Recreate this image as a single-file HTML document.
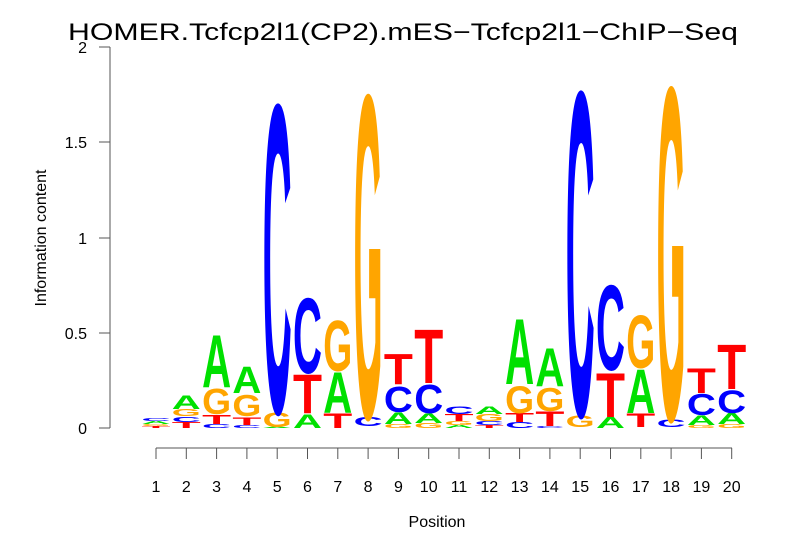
<!DOCTYPE html>
<html><head><meta charset="utf-8"><style>
html,body{margin:0;padding:0;background:#fff;}
svg{display:block;}
.l{font-family:"Liberation Sans",sans-serif;font-weight:bold;}
.A{fill:#00e000}.C{fill:#0000ff}.G{fill:#ffa500}.T{fill:#ff0000}
.t{font-family:"Liberation Sans",sans-serif;fill:#000;}
</style></head><body>
<svg width="806" height="559" viewBox="0 0 806 559" xmlns="http://www.w3.org/2000/svg">
<text class="t" x="403" y="40" font-size="24" text-anchor="middle" textLength="670" lengthAdjust="spacingAndGlyphs">HOMER.Tcfcp2l1(CP2).mES−Tcfcp2l1−ChIP−Seq</text>
<g stroke="#555" stroke-width="1" fill="none">
<line x1="110" y1="47" x2="110" y2="428"/>
<line x1="99" y1="428" x2="110" y2="428"/>
<line x1="99" y1="333" x2="110" y2="333"/>
<line x1="99" y1="238" x2="110" y2="238"/>
<line x1="99" y1="142" x2="110" y2="142"/>
<line x1="99" y1="47" x2="110" y2="47"/>
<line x1="156" y1="448" x2="732" y2="448"/>
</g>
<g class="t" font-size="16" text-anchor="end">
<text x="87" y="434">0</text><text x="87" y="339">0.5</text><text x="87" y="244">1</text><text x="87" y="148">1.5</text><text x="87" y="53">2</text>
</g>
<text class="t" font-size="16" text-anchor="middle" transform="translate(46,238) rotate(-90)">Information content</text>
<text class="t" font-size="16" text-anchor="middle" x="437" y="527">Position</text>
<g stroke="#555" stroke-width="1">
<line x1="156" y1="448" x2="156" y2="459"/><line x1="186.3" y1="448" x2="186.3" y2="459"/><line x1="216.6" y1="448" x2="216.6" y2="459"/><line x1="246.9" y1="448" x2="246.9" y2="459"/><line x1="277.2" y1="448" x2="277.2" y2="459"/><line x1="307.5" y1="448" x2="307.5" y2="459"/><line x1="337.8" y1="448" x2="337.8" y2="459"/><line x1="368.1" y1="448" x2="368.1" y2="459"/><line x1="398.4" y1="448" x2="398.4" y2="459"/><line x1="428.7" y1="448" x2="428.7" y2="459"/><line x1="459" y1="448" x2="459" y2="459"/><line x1="489.3" y1="448" x2="489.3" y2="459"/><line x1="519.6" y1="448" x2="519.6" y2="459"/><line x1="549.9" y1="448" x2="549.9" y2="459"/><line x1="580.2" y1="448" x2="580.2" y2="459"/><line x1="610.5" y1="448" x2="610.5" y2="459"/><line x1="640.8" y1="448" x2="640.8" y2="459"/><line x1="671.1" y1="448" x2="671.1" y2="459"/><line x1="701.4" y1="448" x2="701.4" y2="459"/><line x1="731.7" y1="448" x2="731.7" y2="459"/>
</g>
<g class="t" font-size="16" text-anchor="middle">
<text x="156" y="492">1</text><text x="186.3" y="492">2</text><text x="216.6" y="492">3</text><text x="246.9" y="492">4</text><text x="277.2" y="492">5</text><text x="307.5" y="492">6</text><text x="337.8" y="492">7</text><text x="368.1" y="492">8</text><text x="398.4" y="492">9</text><text x="428.7" y="492">10</text><text x="459" y="492">11</text><text x="489.3" y="492">12</text><text x="519.6" y="492">13</text><text x="549.9" y="492">14</text><text x="580.2" y="492">15</text><text x="610.5" y="492">16</text><text x="640.8" y="492">17</text><text x="671.1" y="492">18</text><text x="701.4" y="492">19</text><text x="731.7" y="492">20</text>
</g>
<g class="l">
<text class="T" x="141.5" y="428" font-size="2.8" textLength="29" lengthAdjust="spacingAndGlyphs">T</text>
<text class="G" x="141.5" y="426" font-size="2.8" textLength="29" lengthAdjust="spacingAndGlyphs">G</text>
<text class="A" x="141.5" y="424" font-size="4.2" textLength="29" lengthAdjust="spacingAndGlyphs">A</text>
<text class="C" x="141.5" y="421" font-size="4.2" textLength="29" lengthAdjust="spacingAndGlyphs">C</text>
<text class="T" x="171.8" y="428" font-size="8.4" textLength="29" lengthAdjust="spacingAndGlyphs">T</text>
<text class="C" x="171.8" y="422" font-size="7" textLength="29" lengthAdjust="spacingAndGlyphs">C</text>
<text class="G" x="171.8" y="416" font-size="9.8" textLength="29" lengthAdjust="spacingAndGlyphs">G</text>
<text class="A" x="171.8" y="409" font-size="19.6" textLength="29" lengthAdjust="spacingAndGlyphs">A</text>
<text class="C" x="202.1" y="428" font-size="5.6" textLength="29" lengthAdjust="spacingAndGlyphs">C</text>
<text class="T" x="202.1" y="424" font-size="12.6" textLength="29" lengthAdjust="spacingAndGlyphs">T</text>
<text class="G" x="202.1" y="414" font-size="36.3" textLength="29" lengthAdjust="spacingAndGlyphs">G</text>
<text class="A" x="202.1" y="387" font-size="75.4" textLength="29" lengthAdjust="spacingAndGlyphs">A</text>
<text class="C" x="232.4" y="428" font-size="4.2" textLength="29" lengthAdjust="spacingAndGlyphs">C</text>
<text class="T" x="232.4" y="425" font-size="11.2" textLength="29" lengthAdjust="spacingAndGlyphs">T</text>
<text class="G" x="232.4" y="416" font-size="30.7" textLength="29" lengthAdjust="spacingAndGlyphs">G</text>
<text class="A" x="232.4" y="393" font-size="37.7" textLength="29" lengthAdjust="spacingAndGlyphs">A</text>
<text class="A" x="262.7" y="428" font-size="1.4" textLength="29" lengthAdjust="spacingAndGlyphs">A</text>
<text class="G" x="262.7" y="427" font-size="21" textLength="29" lengthAdjust="spacingAndGlyphs">G</text>
<text class="C" x="262.7" y="412" font-size="442" textLength="29" lengthAdjust="spacingAndGlyphs">C</text>
<text class="A" x="293" y="428" font-size="19.6" textLength="29" lengthAdjust="spacingAndGlyphs">A</text>
<text class="T" x="293" y="413" font-size="55.9" textLength="29" lengthAdjust="spacingAndGlyphs">T</text>
<text class="C" x="293" y="373" font-size="108" textLength="29" lengthAdjust="spacingAndGlyphs">C</text>
<text class="T" x="323.3" y="428" font-size="21" textLength="29" lengthAdjust="spacingAndGlyphs">T</text>
<text class="A" x="323.3" y="413" font-size="58.7" textLength="29" lengthAdjust="spacingAndGlyphs">A</text>
<text class="G" x="323.3" y="371" font-size="72.5" textLength="29" lengthAdjust="spacingAndGlyphs">G</text>
<text class="C" x="353.6" y="426" font-size="12.6" textLength="29" lengthAdjust="spacingAndGlyphs">C</text>
<text class="G" x="353.6" y="417" font-size="463" textLength="29" lengthAdjust="spacingAndGlyphs">G</text>
<text class="G" x="383.9" y="428" font-size="5.6" textLength="29" lengthAdjust="spacingAndGlyphs">G</text>
<text class="A" x="383.9" y="424" font-size="16.8" textLength="29" lengthAdjust="spacingAndGlyphs">A</text>
<text class="C" x="383.9" y="412" font-size="36.3" textLength="29" lengthAdjust="spacingAndGlyphs">C</text>
<text class="T" x="383.9" y="384" font-size="43.3" textLength="29" lengthAdjust="spacingAndGlyphs">T</text>
<text class="G" x="414.2" y="428" font-size="7" textLength="29" lengthAdjust="spacingAndGlyphs">G</text>
<text class="A" x="414.2" y="423" font-size="14" textLength="29" lengthAdjust="spacingAndGlyphs">A</text>
<text class="C" x="414.2" y="413" font-size="40.5" textLength="29" lengthAdjust="spacingAndGlyphs">C</text>
<text class="T" x="414.2" y="383" font-size="76.8" textLength="29" lengthAdjust="spacingAndGlyphs">T</text>
<text class="A" x="444.5" y="428" font-size="4.2" textLength="29" lengthAdjust="spacingAndGlyphs">A</text>
<text class="G" x="444.5" y="425" font-size="5.6" textLength="29" lengthAdjust="spacingAndGlyphs">G</text>
<text class="T" x="444.5" y="421" font-size="9.8" textLength="29" lengthAdjust="spacingAndGlyphs">T</text>
<text class="C" x="444.5" y="414" font-size="11.2" textLength="29" lengthAdjust="spacingAndGlyphs">C</text>
<text class="T" x="474.8" y="428" font-size="4.2" textLength="29" lengthAdjust="spacingAndGlyphs">T</text>
<text class="C" x="474.8" y="425" font-size="5.6" textLength="29" lengthAdjust="spacingAndGlyphs">C</text>
<text class="G" x="474.8" y="421" font-size="9.8" textLength="29" lengthAdjust="spacingAndGlyphs">G</text>
<text class="A" x="474.8" y="414" font-size="11.2" textLength="29" lengthAdjust="spacingAndGlyphs">A</text>
<text class="C" x="505.1" y="428" font-size="8.4" textLength="29" lengthAdjust="spacingAndGlyphs">C</text>
<text class="T" x="505.1" y="422" font-size="12.6" textLength="29" lengthAdjust="spacingAndGlyphs">T</text>
<text class="G" x="505.1" y="413" font-size="39.1" textLength="29" lengthAdjust="spacingAndGlyphs">G</text>
<text class="A" x="505.1" y="384" font-size="93.6" textLength="29" lengthAdjust="spacingAndGlyphs">A</text>
<text class="C" x="535.4" y="428" font-size="2.8" textLength="29" lengthAdjust="spacingAndGlyphs">C</text>
<text class="T" x="535.4" y="426" font-size="21" textLength="29" lengthAdjust="spacingAndGlyphs">T</text>
<text class="G" x="535.4" y="411" font-size="33.5" textLength="29" lengthAdjust="spacingAndGlyphs">G</text>
<text class="A" x="535.4" y="386" font-size="54.5" textLength="29" lengthAdjust="spacingAndGlyphs">A</text>
<text class="G" x="565.7" y="427" font-size="16.8" textLength="29" lengthAdjust="spacingAndGlyphs">G</text>
<text class="C" x="565.7" y="415" font-size="465" textLength="29" lengthAdjust="spacingAndGlyphs">C</text>
<text class="A" x="596" y="428" font-size="15.4" textLength="29" lengthAdjust="spacingAndGlyphs">A</text>
<text class="T" x="596" y="417" font-size="62.9" textLength="29" lengthAdjust="spacingAndGlyphs">T</text>
<text class="C" x="596" y="370" font-size="122" textLength="29" lengthAdjust="spacingAndGlyphs">C</text>
<text class="T" x="626.3" y="427" font-size="19.6" textLength="29" lengthAdjust="spacingAndGlyphs">T</text>
<text class="A" x="626.3" y="413" font-size="62.9" textLength="29" lengthAdjust="spacingAndGlyphs">A</text>
<text class="G" x="626.3" y="368" font-size="75.5" textLength="29" lengthAdjust="spacingAndGlyphs">G</text>
<text class="C" x="656.6" y="427" font-size="11.2" textLength="29" lengthAdjust="spacingAndGlyphs">C</text>
<text class="G" x="656.6" y="419" font-size="477" textLength="29" lengthAdjust="spacingAndGlyphs">G</text>
<text class="G" x="686.9" y="428" font-size="4.2" textLength="29" lengthAdjust="spacingAndGlyphs">G</text>
<text class="A" x="686.9" y="425" font-size="14" textLength="29" lengthAdjust="spacingAndGlyphs">A</text>
<text class="C" x="686.9" y="415" font-size="30.7" textLength="29" lengthAdjust="spacingAndGlyphs">C</text>
<text class="T" x="686.9" y="393" font-size="34.9" textLength="29" lengthAdjust="spacingAndGlyphs">T</text>
<text class="G" x="717.2" y="428" font-size="5.6" textLength="29" lengthAdjust="spacingAndGlyphs">G</text>
<text class="A" x="717.2" y="424" font-size="15.4" textLength="29" lengthAdjust="spacingAndGlyphs">A</text>
<text class="C" x="717.2" y="413" font-size="32.1" textLength="29" lengthAdjust="spacingAndGlyphs">C</text>
<text class="T" x="717.2" y="389" font-size="64.3" textLength="29" lengthAdjust="spacingAndGlyphs">T</text>
</g>
</svg>
</body></html>
